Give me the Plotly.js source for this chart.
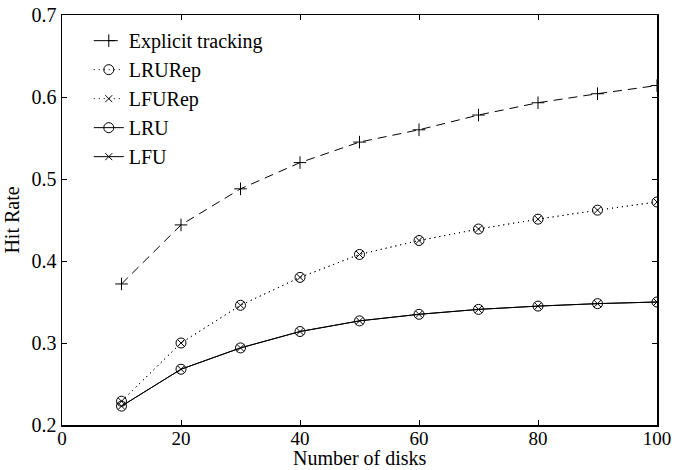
<!DOCTYPE html>
<html><head><meta charset="utf-8">
<script src="https://cdn.plot.ly/plotly-3.0.1.min.js"></script>
<style>html,body{margin:0;padding:0;background:#fff}#c{width:675px;height:470px}</style>
</head><body><div id="c"></div>
<script>
const disks = [10,20,30,40,50,60,70,80,90,100];
const explicitTracking = [0.372,0.444,0.488,0.520,0.545,0.560,0.578,0.593,0.604,0.614];
const lruRep = [0.229,0.300,0.346,0.380,0.408,0.425,0.439,0.451,0.462,0.472];
const lfuRep = [0.229,0.300,0.346,0.380,0.408,0.425,0.439,0.451,0.462,0.472];
const lru = [0.223,0.268,0.294,0.314,0.327,0.335,0.341,0.345,0.348,0.350];
const lfu = [0.223,0.268,0.294,0.314,0.327,0.335,0.341,0.345,0.348,0.350];
const names = ["Explicit tracking","LRURep","LFURep","LRU","LFU"];
const xTicks = [0,20,40,60,80,100];
const yTicks = [0.2,0.3,0.4,0.5,0.6,0.7];

const mk = (y, name, dash, sym, size) => ({
  x: disks, y: y, name: name, type: 'scatter', mode: 'lines+markers',
  line: {color: '#000', width: 1, dash: dash},
  marker: {symbol: sym, size: size, color: '#000', line: {color: '#000', width: 1}}
});
const data = [
  mk(explicitTracking, names[0], '9px,6px', 'cross-thin-open', 9),
  mk(lruRep, names[1], '1px,4px', 'circle-open', 10),
  mk(lfuRep, names[2], '1px,4px', 'x-thin-open', 7),
  mk(lru, names[3], 'solid', 'circle-open', 10),
  mk(lfu, names[4], 'solid', 'x-thin-open', 7)
];
const fam = '"Liberation Serif", "Times New Roman", serif';
const layout = {
  width: 675, height: 470,
  margin: {l: 62, r: 18, t: 15, b: 45},
  paper_bgcolor: '#fff', plot_bgcolor: '#fff',
  font: {family: fam, color: '#000', size: 20},
  showlegend: true,
  legend: {x: 0.045, y: 0.985, xanchor: 'left', yanchor: 'top', bgcolor: 'rgba(0,0,0,0)',
    font: {family: fam, size: 20, color: '#000'}, tracegroupgap: 0},
  xaxis: {range: [0,100], tickvals: xTicks, ticks: 'inside', ticklen: 5, tickcolor: '#000',
    showline: true, linecolor: '#000', linewidth: 1.5, mirror: 'ticks', showgrid: false, zeroline: false,
    ticklabelstandoff: -4, tickfont: {size: 19}, automargin: false},
  yaxis: {range: [0.2,0.7], tickvals: yTicks, ticktext: yTicks.map(v=>v.toFixed(1)), ticks: 'inside', ticklen: 5, tickcolor: '#000',
    showline: true, linecolor: '#000', linewidth: 1.5, mirror: 'ticks', showgrid: false, zeroline: false,
    title: {text: 'Hit Rate', font: {size: 20}, standoff: 6}, tickfont: {size: 20}, automargin: false},
  annotations: [{text: 'Number of disks', xref: 'paper', yref: 'paper', x: 0.5, y: 0,
    xanchor: 'center', yanchor: 'bottom', yshift: -45, showarrow: false, borderpad: 0, font: {size: 20}}]
};
Plotly.newPlot('c', data, layout, {displayModeBar: false, staticPlot: true});
</script></body></html>
